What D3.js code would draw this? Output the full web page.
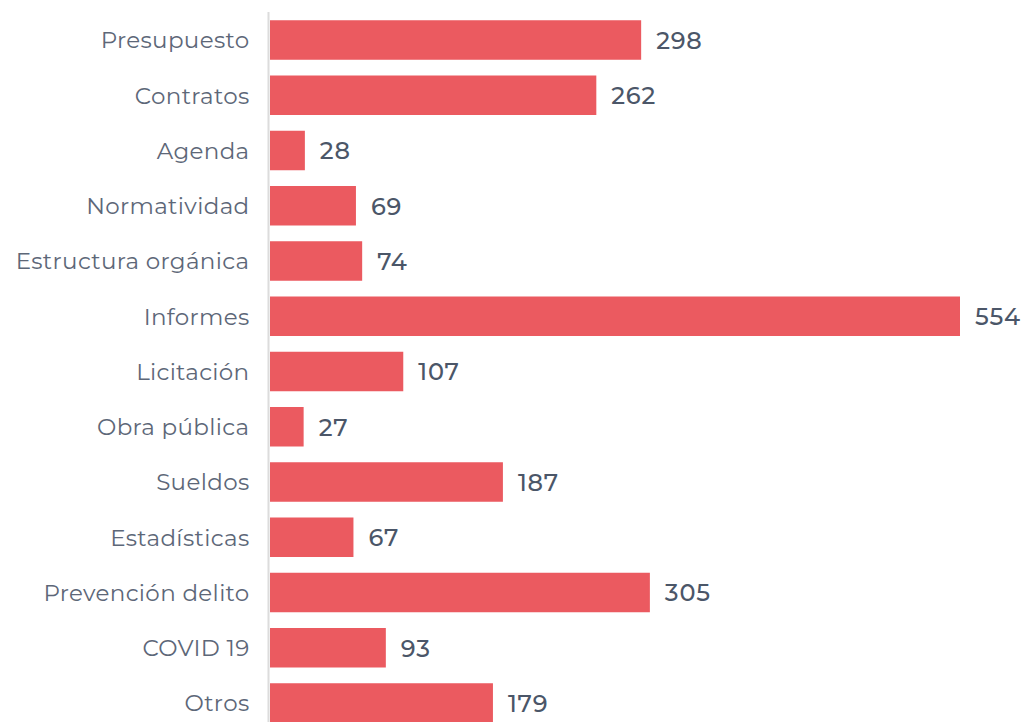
<!DOCTYPE html>
<html><head><meta charset="utf-8">
<script src="https://cdn.jsdelivr.net/npm/d3@7"></script>
<style>html,body{margin:0;padding:0;background:#fff;overflow:hidden}</style>
</head><body>
<svg id="c" width="1026" height="722"></svg>
<script>
const categories = ["Presupuesto","Contratos","Agenda","Normatividad","Estructura orgánica","Informes","Licitación","Obra pública","Sueldos","Estadísticas","Prevención delito","COVID 19","Otros"];
const values = [298,262,28,69,74,554,107,27,187,67,305,93,179];

const svg = d3.select("#c");
const x = d3.scaleLinear().domain([0,554]).range([270,960]);
const step = 55.25;
const y = d3.scaleBand().domain(categories).range([40-step/2, 40-step/2+step*categories.length]).paddingInner(0.285).paddingOuter(0.1425);

svg.append("line").attr("x1",268.5).attr("x2",268.5).attr("y1",12).attr("y2",722)
  .attr("stroke","#dcdcdc").attr("stroke-width",2);

svg.selectAll("rect.bar").data(values).join("rect").attr("class","bar")
  .attr("x",x(0)).attr("y",(d,i)=>y(categories[i]))
  .attr("width",d=>x(d)-x(0)).attr("height",y.bandwidth())
  .attr("fill","#eb5a60");

svg.selectAll("text.cat").data(categories).join("text").attr("class","cat")
  .attr("x",249.5).attr("y",d=>y(d)+y.bandwidth()/2).attr("dy","0.36em")
  .attr("text-anchor","end").attr("font-family","Montserrat, 'Noto Sans', sans-serif")
  .attr("font-size",23).attr("letter-spacing",0.35).attr("fill","#5d6778").text(d=>d);

svg.selectAll("text.val").data(values).join("text").attr("class","val")
  .attr("x",d=>x(d)+15).attr("y",(d,i)=>y(categories[i])+y.bandwidth()/2).attr("dy","0.37em")
  .attr("font-family","Montserrat, 'Noto Sans', sans-serif").attr("font-weight",500)
  .attr("font-size",24).attr("letter-spacing",0.8).attr("fill","#4b5668").text(d=>d);
</script>
</body></html>
